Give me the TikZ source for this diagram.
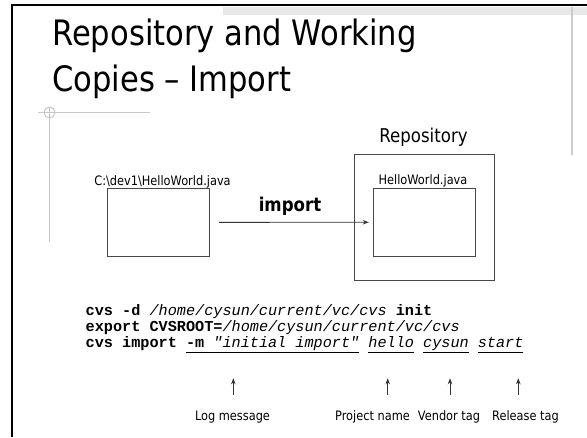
\documentclass[tikz,border=0pt]{standalone}
\usepackage{fontspec}
\setmainfont{DejaVu Sans}[FakeStretch=0.874]
\setmonofont{Liberation Mono}
\usetikzlibrary{arrows.meta}
\begin{document}
\begin{tikzpicture}[x=1pt,y=-1pt,
  box/.style={draw=black!72, line width=1.1pt, inner sep=0pt, anchor=north west},
  lbl/.style={font=\fontsize{13}{15}\selectfont, inner sep=0pt, anchor=base},
  ttl/.style={font=\fontsize{35}{46}\selectfont, inner sep=0pt, anchor=base west},
  codeln/.style={font=\fontsize{15.2}{16}\selectfont\ttfamily, inner sep=0pt, anchor=base west},
  arr/.style={-{Stealth[length=6pt,width=4.5pt]}, line width=0.8pt, draw=black!80},
  uline/.style={line width=0.8pt, draw=black},
  deco/.style={draw=black!22, line width=1pt}]
\useasboundingbox (0,0) rectangle (587,437);
% slide decorations
\fill[black!9] (223,7) rectangle (587,15);
\draw[line width=2.5pt] (12,437) -- (12,5) -- (587,5);
\draw[black!20, line width=1.5pt] (572,7) -- (572,155);
\draw[deco] (37.5,112.5) -- (150,112.5);
\draw[deco] (49.5,107) -- (49.5,242);
\draw[deco] (49.5,112.5) circle (5.5);
% title
\node[ttl] (t1) at (52,45.7) {Repository and Working};
\node[ttl] (t2) at (52,91.7) {Copies – Import};
% boxes
\node[box, minimum width=102.3pt, minimum height=67.7pt] (wc) at (106.7,188) {};
\node[lbl] (wcl) at (162.5,185) {C:\textbackslash dev1\textbackslash HelloWorld.java};
\node[box, minimum width=140.3pt, minimum height=125.7pt] (repo) at (354,154.3) {};
\node[lbl, font=\fontsize{19}{22}\selectfont] (repol) at (423.5,142.7) {Repository};
\node[box, minimum width=102pt, minimum height=68pt] (hw) at (373.3,187.7) {};
\node[lbl] (hwl) at (423,184) {HelloWorld.java};
\node[lbl, font=\fontsize{19}{22}\selectfont\bfseries] (imp) at (290,211.7) {import};
\draw[arr, shorten <=9pt, shorten >=4.5pt] (wc.east) -- (hw.west);
% code
\node[codeln] (c1) at (85.5,315.1) {\textbf{cvs -d} \textit{/home/cysun/current/vc/cvs} \textbf{init}};
\node[codeln] (c2) at (85.5,331.2) {\textbf{export CVSROOT=}\textit{/home/cysun/current/vc/cvs}};
\node[codeln] (c3) at (85.5,347) {\textbf{cvs import -m} \textit{"initial import"} \textit{hello} \textit{cysun} \textit{start}};
\draw[uline] (185.8,352.8) -- (359.1,352.8);
\draw[uline] (368.2,352.8) -- (413.8,352.8);
\draw[uline] (422.9,352.8) -- (468.5,352.8);
\draw[uline] (477.7,352.8) -- (523.3,352.8);
% arrows and labels
\coordinate (a1b) at (233.3,395); \coordinate (a1t) at (233.3,378.3);
\coordinate (a2b) at (387.7,395); \coordinate (a2t) at (387.7,378.3);
\coordinate (a3b) at (450,395);   \coordinate (a3t) at (450,378.3);
\coordinate (a4b) at (518.3,395); \coordinate (a4t) at (518.3,378.3);
\draw[arr] (a1b) -- (a1t);
\draw[arr] (a2b) -- (a2t);
\draw[arr] (a3b) -- (a3t);
\draw[arr] (a4b) -- (a4t);
\node[lbl] (l1) at (232.5,420) {Log message};
\node[lbl] (l2) at (372.5,420) {Project name};
\node[lbl] (l3) at (449,420) {Vendor tag};
\node[lbl] (l4) at (525.5,420) {Release tag};
\end{tikzpicture}
\end{document}
